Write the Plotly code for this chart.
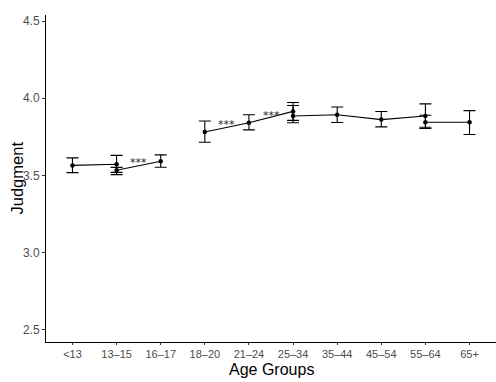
import plotly.graph_objects as go

categories = ["<13", "13\u201215", "16\u201217", "18\u201220", "21\u201224", "25\u201234", "35\u201244", "45\u201254", "55\u201264", "65+"]

# groups of connected points: (category indices, means, upper, lower)
groups = [
    ([0, 1], [3.565, 3.572], [3.614, 3.630], [3.518, 3.520]),
    ([1, 2], [3.534, 3.592], [3.552, 3.633], [3.505, 3.553]),
    ([3, 4, 5], [3.782, 3.841, 3.915], [3.853, 3.893, 3.973], [3.715, 3.795, 3.857]),
    ([5, 6, 7, 8], [3.885, 3.893, 3.862, 3.885], [3.953, 3.944, 3.914, 3.964], [3.841, 3.843, 3.815, 3.812]),
    ([8, 9], [3.845, 3.845], [3.890, 3.920], [3.804, 3.765]),
]

star_pos = [(1.5, 3.585), (3.5, 3.83), (4.5, 3.89)]
star_text = "***"
y_ticks = [2.5, 3.0, 3.5, 4.0, 4.5]
y_ticklabels = ["2.5", "3.0", "3.5", "4.0", "4.5"]

fig = go.Figure()
for idx, m, hi, lo in groups:
    fig.add_trace(go.Scatter(
        x=idx, y=m, mode="lines+markers",
        line=dict(color="black", width=1.1),
        marker=dict(color="black", size=4.5, symbol="circle"),
        error_y=dict(type="data", symmetric=False,
                     array=[h - v for h, v in zip(hi, m)],
                     arrayminus=[v - l for v, l in zip(m, lo)],
                     color="black", thickness=1.1, width=6),
        showlegend=False, hoverinfo="skip"))

for xp, yp in star_pos:
    fig.add_annotation(x=xp, y=yp, text=star_text, showarrow=False,
                       font=dict(size=11, color="#222222", family="DejaVu Sans"))

fig.add_annotation(xref="paper", yref="paper", x=0.5, y=0, yshift=-27, yanchor="middle",
                   text="Age Groups", showarrow=False, font=dict(size=16, color="black"))
fig.add_annotation(xref="paper", yref="paper", x=0, xshift=-30, y=0.5, textangle=-90,
                   xanchor="center", text="Judgment", showarrow=False,
                   font=dict(size=16.5, color="black"))

fig.update_layout(
    width=496, height=382,
    margin=dict(l=46, r=0, t=15, b=40),
    plot_bgcolor="white", paper_bgcolor="white",
    font=dict(family="Liberation Sans, Arial, sans-serif"),
    xaxis=dict(
        range=[-0.6, 9.6], automargin=False,
        tickmode="array", tickvals=list(range(len(categories))), ticktext=categories,
        showgrid=False, zeroline=False,
        showline=True, linecolor="black", linewidth=1,
        ticks="outside", ticklen=2, tickcolor="#333333",
        tickfont=dict(size=11, color="#4d4d4d"),
    ),
    yaxis=dict(
        range=[2.42, 4.54], automargin=False,
        tickvals=y_ticks, ticktext=y_ticklabels,
        showgrid=False, zeroline=False,
        showline=True, linecolor="black", linewidth=1,
        ticks="outside", ticklen=3, tickcolor="#333333",
        tickfont=dict(size=12, color="#4d4d4d"),
    ),
)

fig.write_html("out.html", config={"displayModeBar": False, "staticPlot": True},
               post_script="document.body.style.margin='0';document.body.style.overflow='hidden';")
